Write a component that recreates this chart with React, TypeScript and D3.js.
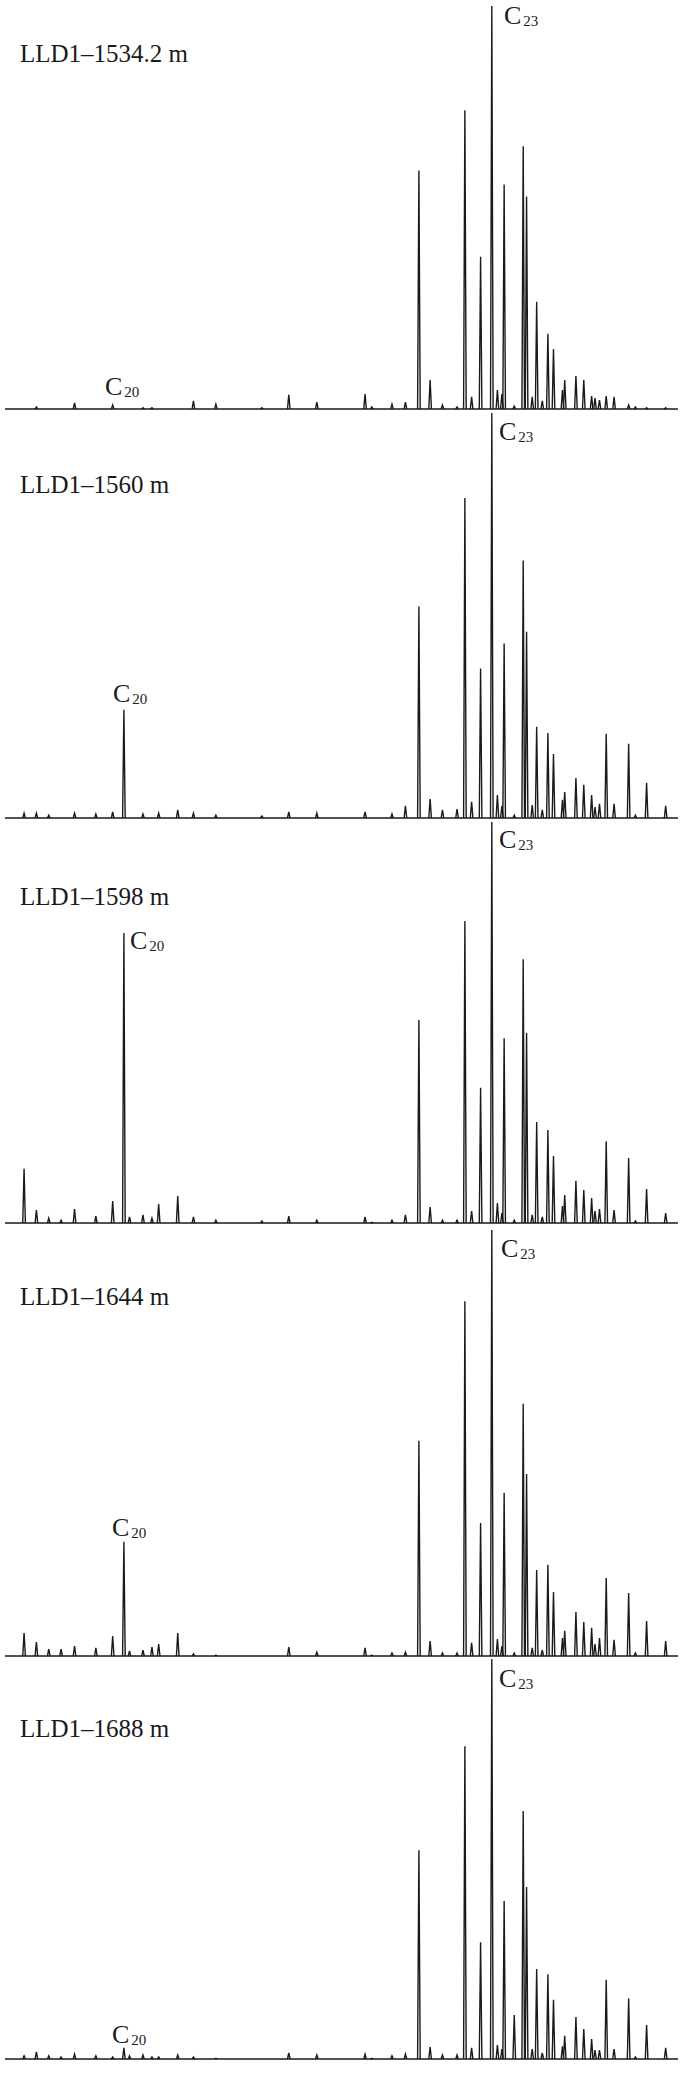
import React from "react";
import * as d3 from "d3";

// Retention time (min) of resolved peaks, shared by all samples
const RETENTION = [
  1.7, 2.8, 3.9, 5.0, 6.2, 8.1, 9.6, 10.6, 11.1, 12.3, 13.1, 13.7, 15.4, 16.8, 18.8,
  22.9, 25.3, 27.8, 32.1, 32.7, 34.5, 35.7, 36.9, 37.9, 39.0, 40.3, 41.0, 41.6, 42.4,
  43.4, 43.9, 44.3, 44.5, 45.4, 46.2, 46.5, 47.0, 47.4, 47.9, 48.4, 48.9, 49.7, 49.9,
  50.9, 51.6, 52.3, 52.6, 53.0, 53.6, 54.3, 55.6, 56.2, 57.2, 58.9,
];

// Relative abundance (%, C23 = 100) per sample
const S1534 = [
  0, 0.5, 0, 0, 1.5, 0, 1.0, 0, 0, 0.3, 0.3, 0, 0, 2.0, 1.2,
  0.3, 3.5, 1.7, 3.7, 0.5, 1.2, 1.7, 59.2, 7.2, 1.0, 0.5, 74.1, 3.0, 37.8,
  100, 4.7, 3.7, 55.7, 0.7, 65.2, 52.7, 3.0, 26.6, 2.0, 18.7, 14.9, 4.7, 7.2,
  8.2, 7.2, 3.2, 2.7, 2.2, 3.2, 3.0, 1.0, 0.5, 0.3, 0.3,
];
const S1560 = [
  1.2, 1.2, 0.7, 0, 1.2, 1.0, 1.5, 26.7, 0, 1.0, 0, 1.2, 2.0, 1.2, 0.7,
  0.5, 1.5, 1.2, 1.5, 0, 1.0, 3.0, 52.2, 4.7, 2.0, 2.2, 79.0, 4.0, 36.9,
  100, 5.7, 3.0, 43.1, 0.7, 63.6, 46.0, 3.2, 22.5, 2.0, 21.0, 15.8, 4.5, 6.4,
  9.9, 8.2, 5.7, 2.7, 3.5, 20.8, 3.5, 18.3, 0.7, 8.7, 3.0,
];
const S1598 = [
  13.5, 3.2, 1.2, 0.7, 3.5, 1.7, 5.5, 72.3, 1.5, 2.0, 1.2, 4.7, 6.7, 1.5, 0.7,
  0.5, 1.7, 0.7, 1.5, 0.2, 0.7, 2.0, 50.6, 4.0, 0.7, 0.7, 75.3, 3.0, 33.7,
  100, 5.0, 2.5, 46.1, 0.7, 65.8, 47.4, 2.0, 25.2, 1.5, 23.2, 16.7, 4.2, 7.0,
  10.5, 8.2, 6.2, 3.0, 3.5, 20.4, 3.2, 16.2, 0.5, 8.5, 2.5,
];
const S1644 = [
  5.4, 3.3, 1.6, 1.6, 2.3, 1.9, 4.7, 26.8, 1.2, 1.4, 2.1, 2.8, 5.4, 0.5, 0.2,
  0, 2.1, 0.9, 1.9, 0.2, 0.7, 0.9, 50.5, 3.5, 0.7, 0.7, 83.3, 3.1, 31.2,
  100, 4.0, 2.3, 38.3, 0.7, 59.2, 42.7, 1.9, 20.2, 1.4, 21.4, 15.0, 4.2, 5.9,
  10.3, 8.0, 6.6, 2.8, 4.2, 18.3, 3.8, 14.8, 0.7, 8.2, 3.5,
];
const S1688 = [
  0.8, 1.8, 0.8, 0.5, 1.2, 0.8, 0.5, 2.8, 0.8, 1.0, 0.5, 0.5, 1.0, 0.5, 0.2,
  0, 1.5, 1.0, 1.2, 0.2, 0.8, 1.2, 52.2, 3.0, 1.0, 1.0, 78.2, 2.8, 29.2,
  100, 3.5, 2.5, 39.5, 11.0, 62.0, 43.0, 2.5, 22.5, 1.5, 21.2, 14.8, 3.2, 5.8,
  10.5, 7.5, 5.0, 2.2, 2.2, 19.8, 2.5, 15.2, 0.5, 8.5, 2.8,
];

const SAMPLE_NAMES = ["LLD1–1534.2 m", "LLD1–1560 m", "LLD1–1598 m", "LLD1–1644 m", "LLD1–1688 m"];
const SERIES = [S1534, S1560, S1598, S1644, S1688];
const RT_DOMAIN = [0, 60];

// layout (pixel positions only)
const PANELS = [
  { top: 6, base: 409, title: [20, 62], c23: [504, 24], c20: [105, 395] },
  { top: 413, base: 818, title: [20, 493], c23: [499, 440], c20: [113, 702] },
  { top: 822, base: 1223, title: [20, 905], c23: [499, 848], c20: [130, 949] },
  { top: 1230, base: 1656, title: [20, 1305], c23: [501, 1257], c20: [112, 1536] },
  { top: 1659, base: 2059, title: [20, 1737], c23: [499, 1687], c20: [112, 2043] },
];

const W = 700;
const H = 2076;
const FONT = "'Liberation Serif', 'Times New Roman', Times, serif";
const INK = "#1a1a1a";
const HALF = 1.3;

function Label({ x, y, sub }: { x: number; y: number; sub: string }) {
  return (
    <text x={x} y={y} fontFamily={FONT} fontSize={26} fill={INK}>
      C
      <tspan dx={2} dy={2} fontSize={15}>
        {sub}
      </tspan>
    </text>
  );
}

export default function App() {
  const x = d3.scaleLinear().domain(RT_DOMAIN).range([5, 678]);
  const line = d3.line<[number, number]>().x((d) => d[0]).y((d) => d[1]);

  return (
    <svg
      width={W}
      height={H}
      viewBox={`0 0 ${W} ${H}`}
      style={{ position: "absolute", left: 0, top: 0, background: "#fff" }}
    >
      <rect x={0} y={0} width={W} height={H} fill="#fff" />
      {PANELS.map((p, i) => {
        const y = d3.scaleLinear().domain([0, 100]).range([p.base, p.top]);
        const vals = SERIES[i];
        const y0 = y(0);
        return (
          <g key={i}>
            <path
              d={line([
                [x(RT_DOMAIN[0]), y0],
                [x(RT_DOMAIN[1]), y0],
              ]) as string}
              stroke={INK}
              strokeWidth={1.7}
              fill="none"
            />
            {RETENTION.map((rt, j) => {
              if (vals[j] <= 0) return null;
              const cx = x(rt);
              const pts: [number, number][] = [
                [cx - HALF, y0],
                [cx, y(vals[j])],
                [cx + HALF, y0],
              ];
              return (
                <path
                  key={j}
                  d={line(pts) as string}
                  stroke={INK}
                  strokeWidth={1.4}
                  strokeLinejoin="miter"
                  fill="none"
                />
              );
            })}
            <text x={p.title[0]} y={p.title[1]} fontFamily={FONT} fontSize={25} fill={INK}>
              {SAMPLE_NAMES[i]}
            </text>
            <Label x={p.c23[0]} y={p.c23[1]} sub="23" />
            <Label x={p.c20[0]} y={p.c20[1]} sub="20" />
          </g>
        );
      })}
    </svg>
  );
}
